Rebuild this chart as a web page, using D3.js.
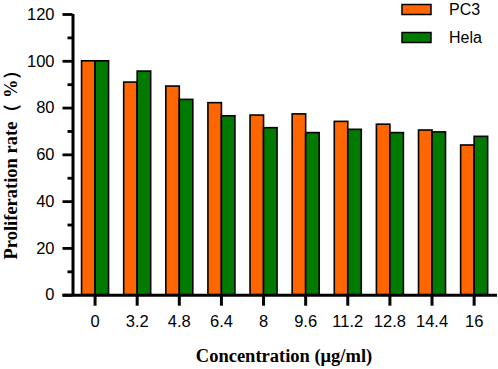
<!DOCTYPE html>
<html><head><meta charset="utf-8">
<script src="https://cdn.jsdelivr.net/npm/d3@7"></script>
<style>
html,body{margin:0;padding:0;background:#fff;}
svg{display:block;}
</style></head>
<body>
<svg id="chart" width="498" height="369"></svg>
<script>
const categories = ["0","3.2","4.8","6.4","8","9.6","11.2","12.8","14.4","16"];
const seriesNames = ["PC3","Hela"];
const pc3Values = [100, 90.9, 89.2, 82.1, 76.8, 77.3, 74.1, 72.9, 70.4, 64.0];
const helaValues = [100, 95.6, 83.5, 76.5, 71.4, 69.3, 70.7, 69.3, 69.6, 67.7];
const yMajorTicks = [0,20,40,60,80,100,120];
const yMinorTicks = [10,30,50,70,90,110];
const colors = ["#ff6600","#007a00"];

const svg = d3.select("#chart");
const x0 = 72.5, yBase = 294.7, yTop = 14;
const x = d3.scaleBand().domain(categories).range([74, 495.2]).padding(0);
const pairW = 27;
const xs = d3.scaleBand().domain(seriesNames)
  .range([x.bandwidth()/2 - pairW/2, x.bandwidth()/2 + pairW/2]).padding(0);
const y = d3.scaleLinear().domain([0,120]).range([yBase, yTop]);
const seriesValues = [pc3Values, helaValues];

// bars
seriesNames.forEach((s, si) => {
  svg.append("g").selectAll("rect")
    .data(categories.map((c, i) => ({c, v: seriesValues[si][i]})))
    .join("rect")
    .attr("x", d => x(d.c) + xs(s))
    .attr("y", d => y(d.v))
    .attr("width", xs.bandwidth())
    .attr("height", d => y(0) - y(d.v))
    .attr("fill", colors[si])
    .attr("stroke", "#000")
    .attr("stroke-width", 1.6);
});

const tickFont = "Liberation Sans, Arial, sans-serif";
// y axis
const yAxis = svg.append("g").attr("transform", `translate(${x0},0)`)
  .call(d3.axisLeft(y).tickValues(yMajorTicks).tickSize(10).tickPadding(8).tickSizeOuter(0));
yAxis.selectAll("line").attr("stroke-width", 2.8);
yAxis.select(".domain").attr("d", `M0.5,${yBase + 1.4}V${yTop}`).attr("stroke-width", 3);
yAxis.selectAll("text").attr("font-family", tickFont)
  .attr("font-size", 16.5).attr("fill", "#000");
const yMinor = svg.append("g").attr("transform", `translate(${x0},0)`)
  .call(d3.axisLeft(y).tickValues(yMinorTicks).tickSize(5).tickFormat("").tickSizeOuter(0));
yMinor.select(".domain").remove();
yMinor.selectAll("line").attr("stroke-width", 2.8);

// x axis
const xAxis = svg.append("g").attr("transform", `translate(0,${yBase})`)
  .call(d3.axisBottom(x).tickSize(11).tickPadding(10).tickSizeOuter(0));
xAxis.select(".domain").attr("d", `M${x0 - 10},0.5H497`).attr("stroke-width", 3);
xAxis.selectAll("line").attr("stroke-width", 3);
xAxis.selectAll("text").attr("font-family", tickFont)
  .attr("font-size", 16.5).attr("fill", "#000");

// axis titles
svg.append("text")
  .attr("x", 284).attr("y", 362)
  .attr("text-anchor", "middle")
  .attr("font-family", "Liberation Serif, Times New Roman, serif")
  .attr("font-weight", "bold").attr("font-size", 18.5)
  .text("Concentration (μg/ml)");
svg.append("text")
  .attr("transform", "translate(17,160) rotate(-90)")
  .attr("text-anchor", "middle")
  .attr("font-family", "Liberation Serif, Times New Roman, serif")
  .attr("font-weight", "bold").attr("font-size", 18.5)
  .text("Proliferation rate（ %）");

// legend
const legend = svg.append("g");
seriesNames.forEach((s, i) => {
  const gy = 4.5 + i * 28;
  legend.append("rect").attr("x", 402).attr("y", gy).attr("width", 29).attr("height", 10)
    .attr("fill", colors[i]).attr("stroke", "#000").attr("stroke-width", 1.5);
  legend.append("text").attr("x", 449).attr("y", gy + 10.5)
    .attr("font-family", tickFont)
    .attr("font-size", 16).attr("fill", "#000").text(s);
});
</script>
</body></html>
